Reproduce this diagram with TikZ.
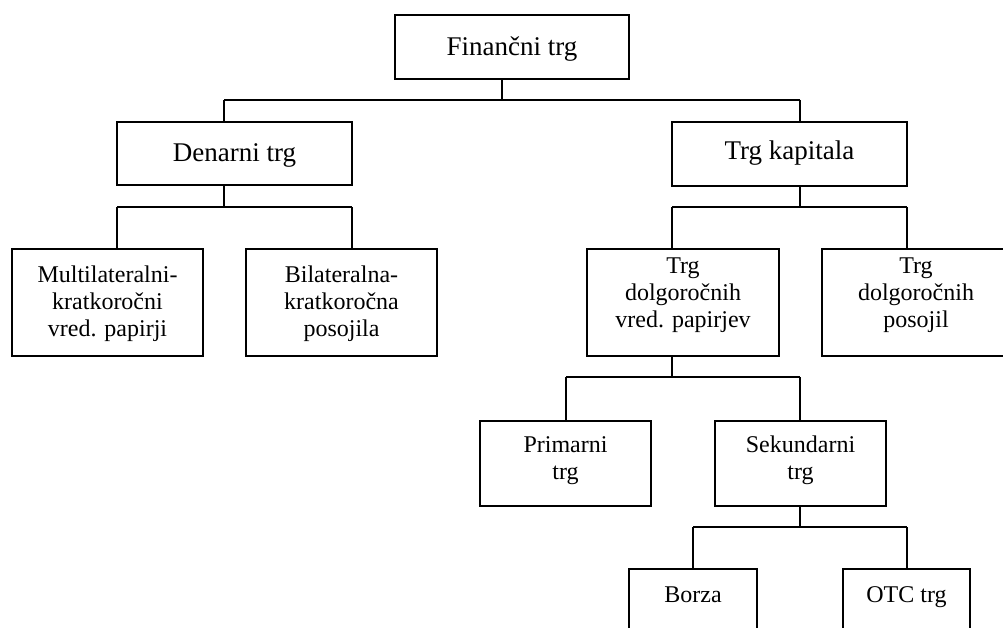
\documentclass[tikz,border=0pt]{standalone}
\usepackage{fontspec}
\setmainfont{Liberation Serif}
\newcommand{\boxtxt}[4]{\parbox[t][#2][t]{#1}{\centering\rule{0pt}{#3}#4}}
\tikzset{
  box/.style={draw, line width=1.4pt, rectangle, inner sep=0pt, outer sep=0pt, anchor=north west},
  big/.style={font=\fontsize{27}{30}\selectfont},
  small/.style={font=\fontsize{24}{27}\selectfont},
  conn/.style={line width=1.2pt}
}
\begin{document}
\begin{tikzpicture}[x=1pt,y=-1pt]
\useasboundingbox (0,0) rectangle (1003,628);
\clip (0,0) rectangle (1003,628);
% boxes
\node[box,big]   (fin)   at (395,15)  {\boxtxt{234pt}{64pt}{41pt}{Finančni trg}};
\node[box,big]   (den)   at (117,122) {\boxtxt{235pt}{63pt}{40pt}{Denarni trg}};
\node[box,big]   (kap)   at (672,122) {\boxtxt{235pt}{64pt}{38pt}{Trg kapitala}};
\node[box,small] (multi) at (12,249)  {\boxtxt{191pt}{107pt}{33pt}{Multilateralni-\\kratkoročni\\vred. papirji}};
\node[box,small] (bil)   at (246,249) {\boxtxt{191pt}{107pt}{33pt}{Bilateralna-\\kratkoročna\\posojila}};
\node[box,small] (dvp)   at (587,249) {\boxtxt{192pt}{107pt}{24pt}{Trg\\dolgoročnih\\vred. papirjev}};
\node[box,small] (dpo)   at (822,249) {\boxtxt{188pt}{107pt}{24pt}{Trg\\dolgoročnih\\posojil}};
\node[box,small] (prim)  at (480,421) {\boxtxt{171pt}{85pt}{31pt}{Primarni\\trg}};
\node[box,small] (sek)   at (715,421) {\boxtxt{171pt}{85pt}{31pt}{Sekundarni\\trg}};
\node[box,small] (borza) at (629,569) {\boxtxt{128pt}{80pt}{33pt}{Borza}};
\node[box,small] (otc)   at (843,569) {\boxtxt{127pt}{80pt}{33pt}{OTC trg}};
% bus coordinates
\coordinate (j0) at (502,100); \coordinate (l0) at (224,100); \coordinate (r0) at (800,100);
\coordinate (j1) at (224,207); \coordinate (l1) at (117,207); \coordinate (r1) at (352,207);
\coordinate (j2) at (800,207); \coordinate (l2) at (672,207); \coordinate (r2) at (907,207);
\coordinate (j3) at (672,377); \coordinate (l3) at (566,377); \coordinate (r3) at (800,377);
\coordinate (j4) at (800,527); \coordinate (l4) at (693,527); \coordinate (r4) at (907,527);
% connectors
\draw[conn] (fin.south -| j0) -- (j0);
\draw[conn] (l0) -- (r0);
\draw[conn] (l0) -- (l0 |- den.north);
\draw[conn] (r0) -- (r0 |- kap.north);
\draw[conn] (den.south -| j1) -- (j1);
\draw[conn] (l1) -- (r1);
\draw[conn] (l1) -- (l1 |- multi.north);
\draw[conn] (r1) -- (r1 |- bil.north);
\draw[conn] (kap.south -| j2) -- (j2);
\draw[conn] (l2) -- (r2);
\draw[conn] (l2) -- (l2 |- dvp.north);
\draw[conn] (r2) -- (r2 |- dpo.north);
\draw[conn] (dvp.south -| j3) -- (j3);
\draw[conn] (l3) -- (r3);
\draw[conn] (l3) -- (l3 |- prim.north);
\draw[conn] (r3) -- (r3 |- sek.north);
\draw[conn] (sek.south -| j4) -- (j4);
\draw[conn] (l4) -- (r4);
\draw[conn] (l4) -- (l4 |- borza.north);
\draw[conn] (r4) -- (r4 |- otc.north);
\end{tikzpicture}
\end{document}
